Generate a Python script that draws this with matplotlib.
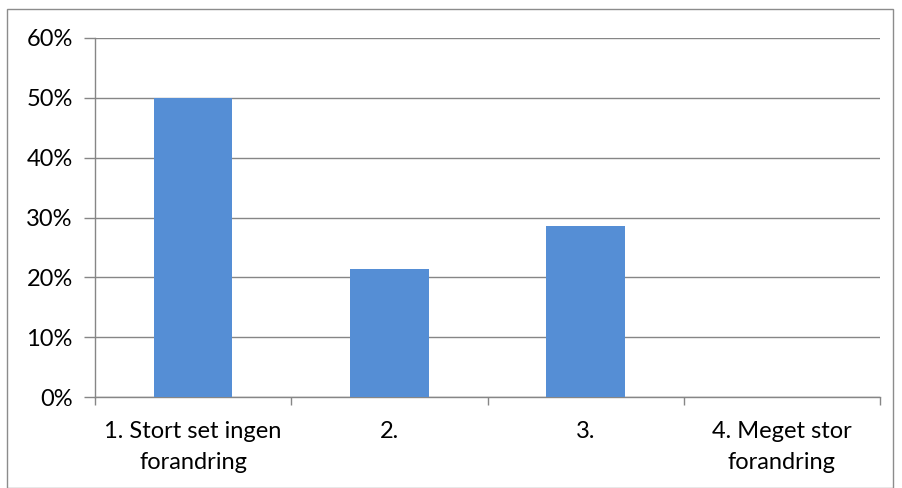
import matplotlib
matplotlib.use("Agg")
import matplotlib.pyplot as plt
from matplotlib.patches import Rectangle
from matplotlib.ticker import FuncFormatter

categories = ["1. Stort set ingen\nforandring", "2.", "3.", "4. Meget stor\nforandring"]
values = [0.50, 0.214, 0.286, 0.0]

plt.rcParams['font.family'] = ['Lato', 'DejaVu Sans']

fig = plt.figure(figsize=(9.02, 4.88), dpi=100)
fig.patches.append(Rectangle((7/902, 0.5/488), (893-7)/902, (479-0.5)/488, transform=fig.transFigure,
                             fill=False, edgecolor='#8c8c8c', linewidth=1.0))
ax = fig.add_axes([95/902, (488-397)/488, (880-95)/902, (397-38)/488])

x = list(range(len(categories)))
ax.bar(x, values, width=0.4, color='#558ed5', zorder=3)
ax.set_xlim(-0.5, len(categories) - 0.5)
ax.set_ylim(0, 0.6)
ax.set_yticks([i / 10 for i in range(7)])
ax.yaxis.set_major_formatter(FuncFormatter(lambda v, p: f"{round(v*100)}%"))
ax.grid(axis='y', color='#868686', linewidth=1.0, zorder=0)

ax.set_xticks([i - 0.5 for i in range(len(categories) + 1)], minor=False)
ax.set_xticklabels([])
ax.set_xticks(x, minor=True)
ax.set_xticklabels(categories, minor=True, fontsize=17, linespacing=1.6)
ax.tick_params(axis='x', which='minor', length=0, pad=17)
ax.tick_params(axis='x', which='major', length=6, color='#868686', width=1)
ax.tick_params(axis='y', length=8, color='#868686', width=1, labelsize=17, pad=8)

for s in ['top', 'right']:
    ax.spines[s].set_visible(False)
for s in ['left', 'bottom']:
    ax.spines[s].set_color('#868686')
    ax.spines[s].set_linewidth(1.0)

fig.savefig("out.png", dpi=100)
